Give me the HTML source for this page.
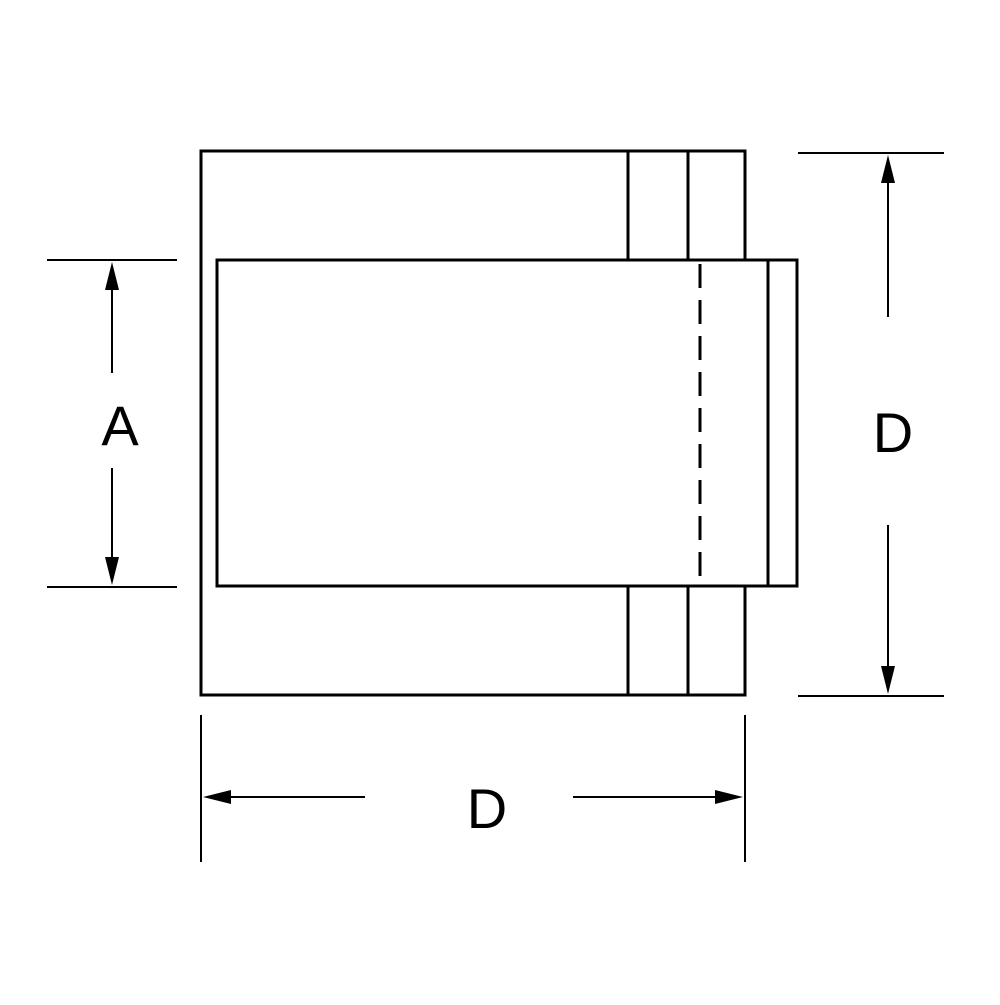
<!DOCTYPE html>
<html><head><style>html,body{margin:0;padding:0;background:#fff}</style></head>
<body>
<svg width="1000" height="1000" viewBox="0 0 1000 1000" xmlns="http://www.w3.org/2000/svg">
<g fill="none" stroke="#000" stroke-width="3">
<rect x="201" y="151" width="544" height="544"/>
<rect x="217" y="260" width="580" height="326" fill="#fff"/>
<line x1="628" y1="151" x2="628" y2="260"/>
<line x1="688" y1="151" x2="688" y2="260"/>
<line x1="628" y1="586" x2="628" y2="695"/>
<line x1="688" y1="586" x2="688" y2="695"/>
<line x1="768" y1="260" x2="768" y2="586"/>
<line x1="700" y1="264" x2="700" y2="586" stroke-dasharray="24,12"/>
</g>
<g stroke="#000" stroke-width="2">
<line x1="47" y1="260" x2="177" y2="260"/>
<line x1="47" y1="587" x2="177" y2="587"/>
<line x1="112" y1="285" x2="112" y2="373"/>
<line x1="112" y1="468" x2="112" y2="560"/>
<line x1="798" y1="153" x2="944" y2="153"/>
<line x1="798" y1="696" x2="944" y2="696"/>
<line x1="888" y1="180" x2="888" y2="317"/>
<line x1="888" y1="525" x2="888" y2="668"/>
<line x1="201" y1="715" x2="201" y2="862"/>
<line x1="745" y1="715" x2="745" y2="862"/>
<line x1="228" y1="797" x2="365" y2="797"/>
<line x1="573" y1="797" x2="716" y2="797"/>
</g>
<g fill="#000">
<polygon points="112,262 105,290 119,290"/>
<polygon points="112,585 105,557 119,557"/>
<polygon points="888,155 881,183 895,183"/>
<polygon points="888,694 881,666 895,666"/>
<polygon points="203,797 231,790 231,804"/>
<polygon points="743,797 715,790 715,804"/>
</g>
<g font-family="Liberation Sans, sans-serif" font-size="56" text-anchor="middle" fill="#000">
<text x="120" y="445">A</text>
<text x="893" y="452">D</text>
<text x="487" y="828">D</text>
</g>
</svg>
</body></html>
